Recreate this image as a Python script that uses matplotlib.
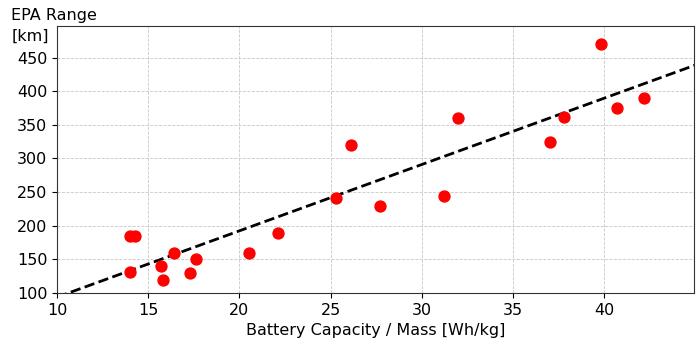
import numpy as np
import matplotlib
matplotlib.use('Agg')
import matplotlib.pyplot as plt

# Battery capacity per mass [Wh/kg] vs EPA range [km]
capacity_per_mass = [14.0, 14.3, 14.0, 15.7, 15.8, 16.4, 17.3, 17.6, 20.5, 22.1,
                     25.3, 26.1, 27.7, 31.2, 32.0, 37.0, 37.8, 39.8, 40.7, 42.2]
epa_range = [185, 185, 132, 140, 120, 160, 130, 150, 160, 190,
             242, 320, 230, 245, 360, 325, 362, 470, 375, 390]

# linear trend
fit_slope = 9.86
fit_intercept = -4.7
fit_x = [10, 45]

fig, ax = plt.subplots(figsize=(7.0, 3.46), dpi=100)
fig.subplots_adjust(left=0.0814, right=0.991, top=0.925, bottom=0.153)

ax.scatter(capacity_per_mass, epa_range, s=62, color='red', zorder=3)
fit_y = [fit_slope * x + fit_intercept for x in fit_x]
ax.plot(fit_x, fit_y, color='black', linestyle='--', linewidth=2, zorder=2)

ax.set_xlim(10, 44.9)
ax.set_ylim(100, 497)
ax.set_xticks([10, 15, 20, 25, 30, 35, 40])
ax.set_yticks([100, 150, 200, 250, 300, 350, 400, 450])
ax.tick_params(labelsize=11.5)
ax.grid(True, linestyle='--', linewidth=0.6, color='#c8c8c8')
ax.set_axisbelow(True)
for sp in ax.spines.values():
    sp.set_color('#333333')

ax.set_xlabel('Battery Capacity / Mass [Wh/kg]', fontsize=11.5)
ax.set_ylabel('EPA Range\n[km]', fontsize=11.5, rotation=0, ha='left', va='top',
              linespacing=1.45)
ax.yaxis.set_label_coords(-0.072, 1.067)

fig.savefig('out.png', dpi=100)
